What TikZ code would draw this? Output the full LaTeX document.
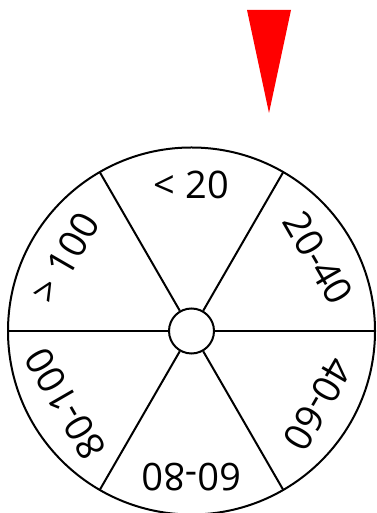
\documentclass[tikz,border=0pt]{standalone}
\usepackage{fontspec}
\setmainfont{Open Sans}
\usetikzlibrary{calc}
\begin{document}
\begin{tikzpicture}[x=1pt,y=1pt,
  rim/.style={draw=black,line width=2pt},
  spoke/.style={draw=black,line width=2pt},
  lbl/.style={font=\fontsize{38}{38}\selectfont,inner sep=0pt}]
\useasboundingbox (0,0) rectangle (376,513);
\coordinate (C) at (191.5,182);
\draw[rim] (C) circle[radius=183.5];
\node[circle,draw=black,line width=2pt,fill=white,minimum size=45pt,inner sep=0pt] (hub) at (C) {};
\foreach \a [count=\i] in {0,60,120,180,240,300}{
  \coordinate (e\i) at ($(C)+(\a:183.5)$);
  \draw[spoke] (hub.\a) -- (e\i);
}
\foreach \t/\ang [count=\i] in {{< 20}/0,{20-40}/60,{40-60}/120,{60-80}/180,{80-100}/240,{> 100}/300}{
  \node[lbl,rotate=-\ang] (l\i) at ($(C)+(90-\ang:146)$) {\t};
}
\fill[red] (247,503) -- (291,503) -- (269,400) -- cycle;
\end{tikzpicture}
\end{document}
